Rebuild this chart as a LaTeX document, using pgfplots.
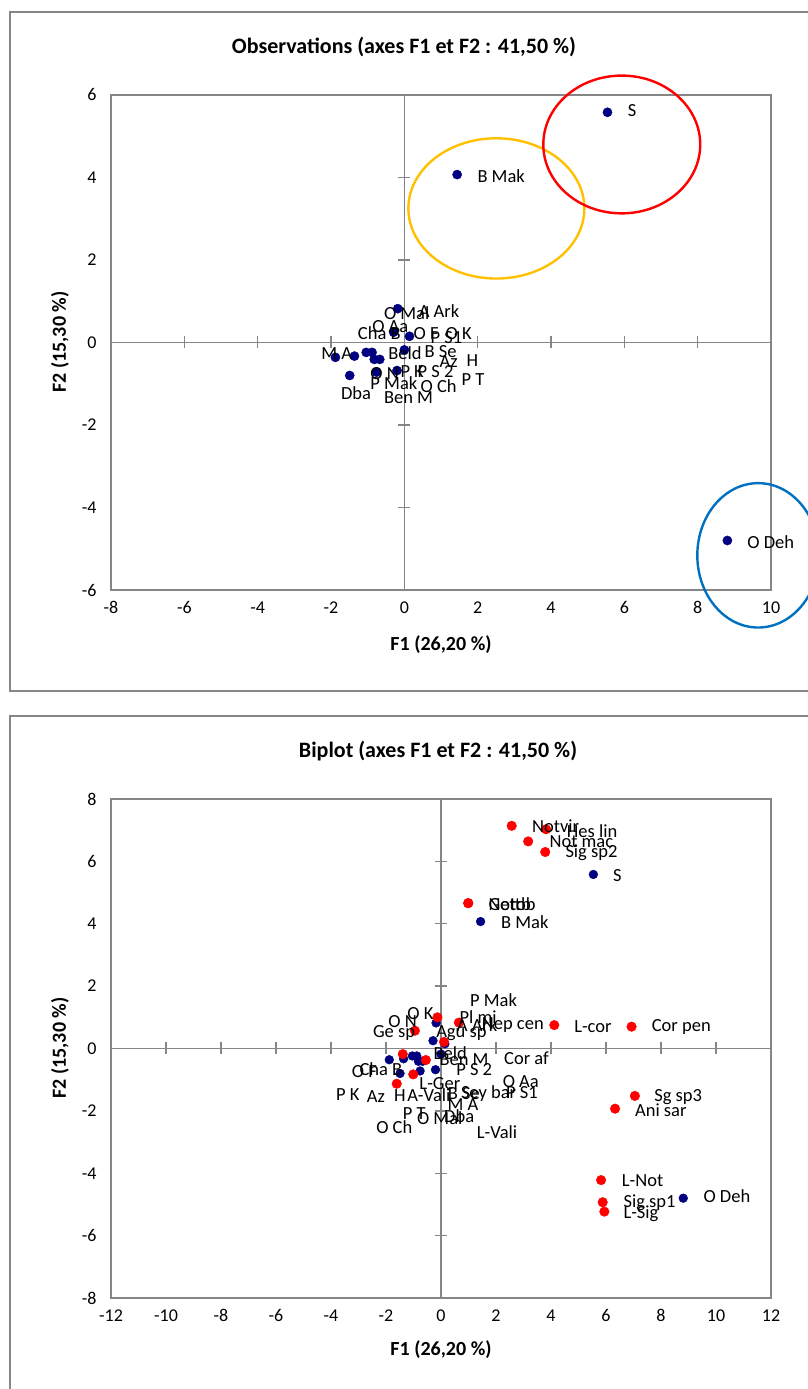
\documentclass[border=0pt]{standalone}
\usepackage{fontspec}
\setmainfont{Carlito}
\usepackage{pgfplots}
\usepackage{pgfplotstable}
\pgfplotsset{compat=1.18}
\definecolor{axgray}{HTML}{868686}
\definecolor{navy}{HTML}{000080}
\definecolor{exred}{HTML}{FF0000}
\definecolor{exorange}{HTML}{FFC000}
\definecolor{exblue}{HTML}{0070C0}

\pgfplotstableread{
x y
5.54 5.58
1.44 4.07
8.81 -4.80
-0.18 0.82
-0.29 0.25
0.14 0.15
0.00 -0.18
-1.88 -0.36
-1.36 -0.33
-1.04 -0.24
-0.88 -0.24
-0.82 -0.41
-0.67 -0.41
-1.49 -0.80
-0.76 -0.72
-0.20 -0.68
}\obsdata

\pgfplotstableread{
x y
2.57 7.14
3.82 7.03
3.17 6.64
3.79 6.30
0.99 4.66
0.99 4.66
-0.13 1.00
0.65 0.83
4.12 0.75
6.93 0.70
0.11 0.21
-0.95 0.57
-1.39 -0.18
-0.55 -0.37
-1.01 -0.83
-1.61 -1.13
7.05 -1.52
6.33 -1.93
5.82 -4.22
5.88 -4.93
5.94 -5.23
}\vardata

\pgfplotstableread[col sep=comma]{
x,y,label
-0.56,0.70,O Mal
0.39,0.76,A Ark
-0.88,0.39,O Aa
-1.27,0.22,Cha B
0.25,0.21,O F
0.71,0.11,P S1
1.12,0.21,O K
-2.27,-0.27,M A
-0.44,-0.27,Beld
0.55,-0.21,B Se
0.96,-0.47,Az
1.69,-0.45,H
-0.93,-0.76,O N
-0.11,-0.70,P K
0.36,-0.70,P S 2
1.56,-0.91,P T
-0.93,-0.99,P Mak
0.44,-1.07,O Ch
-1.73,-1.23,Dba
-0.56,-1.33,Ben M
6.09,5.62,S
1.99,4.03,B Mak
9.35,-4.83,O Deh
}\toplabels

\pgfplotstableread[col sep=comma]{
x,y,label
3.31,7.14,Notvir
4.57,6.97,Hes lin
3.94,6.62,Not mac
4.52,6.27,Sig sp2
6.25,5.56,S
1.72,4.63,Notob
1.72,4.63,Gettb
2.18,4.06,B Mak
1.05,1.56,P Mak
-1.23,1.13,O K
-1.92,0.86,O N
0.67,1.02,Pl mi
0.57,0.75,A Ark
1.48,0.75,Nep cen
4.84,0.70,L-cor
7.66,0.68,Cor pen
-2.48,0.49,Ge sp
-0.18,0.49,Agu sp
-0.28,-0.15,Beld
-0.06,-0.37,Ben M
0.55,-0.67,P S 2
2.29,-0.31,Cor af
-2.97,-0.67,Cha B
-3.25,-0.74,O F
-0.79,-1.12,L-Ger
-3.82,-1.49,P K
-2.70,-1.55,Az
-1.71,-1.52,H
-1.23,-1.49,A-Vali
0.24,-1.44,B Se
0.72,-1.43,Sey bar
2.36,-1.41,P S1
2.24,-1.06,O Aa
0.23,-1.81,M A
0.11,-2.16,Dba
-1.39,-2.10,P T
-0.88,-2.24,O Mal
-2.36,-2.51,O Ch
1.30,-2.67,L-Vali
7.75,-1.55,Sg sp3
7.05,-1.97,Ani sar
6.57,-4.24,L-Not
6.63,-4.95,Sig sp1
6.63,-5.30,L-Sig
9.54,-4.73,O Deh
}\botlabels

\pgfplotsset{
  pcabase/.style={
    scale only axis,
    axis line style={axgray, line width=1.6pt},
    major tick length=0pt,
    tick style={draw=none},
    /pgf/number format/assume math mode=true,
    tick label style={font=\fontsize{18}{20}\selectfont},
    xticklabel style={yshift=-8pt},
    yticklabel style={xshift=-11pt},
    clip=false,
  },
  lbl/.style={only marks, mark=none, nodes near coords, point meta=explicit symbolic,
    every node near coord/.append style={anchor=west, font=\fontsize{18.5}{20}\selectfont, inner sep=0pt, text=black}},
}

\begin{document}
\begin{tikzpicture}[x=1pt,y=1pt]
\useasboundingbox (0,0) rectangle (808,1389);
\clip (0,0) rectangle (808,1389);
% chart frames
\draw[axgray, line width=1.3pt] (10,1377) rectangle (815,698);
\draw[axgray, line width=1.3pt] (10,673) rectangle (815,-10);

% ---------- top chart ----------
\begin{axis}[pcabase,
  at={(111pt,799pt)}, anchor=south west,
  width=660pt, height=495pt,
  xmin=-8, xmax=10, ymin=-6, ymax=6,
  xtick={-8,-6,...,10}, ytick={-6,-4,...,6}]
  \draw[axgray, line width=1.6pt] (axis cs:0,-6) -- (axis cs:0,6);
  \draw[axgray, line width=1.6pt] (axis cs:-8,0) -- (axis cs:10,0);
  \pgfplotsinvokeforeach{-6,-4,-2,2,4,6,8}{
    \draw[axgray, line width=1.3pt] ([yshift=-6pt]axis cs:#1,0) -- ([yshift=6pt]axis cs:#1,0);}
  \pgfplotsinvokeforeach{-4,-2,2,4}{
    \draw[axgray, line width=1.3pt] ([xshift=-6pt]axis cs:0,#1) -- ([xshift=6pt]axis cs:0,#1);}
  \addplot[only marks, mark=*, mark size=4.6pt, color=navy] table[x=x, y=y] {\obsdata};
  \addplot[lbl] table[x=x, y=y, meta=label] {\toplabels};
  \draw[exorange, line width=2.4pt] (axis cs:2.51,3.25) ellipse [x radius=2.40, y radius=1.70];
  \draw[exred, line width=2.4pt] (axis cs:5.93,4.80) ellipse [x radius=2.14, y radius=1.67];
  \draw[exblue, line width=2.4pt] (axis cs:9.65,-5.16) ellipse [x radius=1.66, y radius=1.75];
\end{axis}
\node[font=\bfseries\fontsize{22}{24}\selectfont] at (404,1342) {Observations (axes F1 et F2 : 41,50 \%)};
\node[font=\bfseries\fontsize{20}{22}\selectfont] at (441,744) {F1 (26,20 \%)};
\node[font=\bfseries\fontsize{20}{22}\selectfont, rotate=90] at (60,1047) {F2 (15,30 \%)};

% ---------- bottom chart ----------
\begin{axis}[pcabase,
  at={(111pt,91pt)}, anchor=south west,
  width=660pt, height=499pt,
  xmin=-12, xmax=12, ymin=-8, ymax=8,
  xtick={-12,-10,...,12}, ytick={-8,-6,...,8}]
  \draw[axgray, line width=1.6pt] (axis cs:0,-8) -- (axis cs:0,8);
  \draw[axgray, line width=1.6pt] (axis cs:-12,0) -- (axis cs:12,0);
  \pgfplotsinvokeforeach{-10,-8,-6,-4,-2,2,4,6,8,10}{
    \draw[axgray, line width=1.3pt] ([yshift=-6pt]axis cs:#1,0) -- ([yshift=6pt]axis cs:#1,0);}
  \pgfplotsinvokeforeach{-6,-4,-2,2,4,6}{
    \draw[axgray, line width=1.3pt] ([xshift=-6pt]axis cs:0,#1) -- ([xshift=6pt]axis cs:0,#1);}
  \addplot[only marks, mark=*, mark size=4.4pt, color=navy] table[x=x, y=y] {\obsdata};
  \addplot[only marks, mark=*, mark size=4.8pt, color=exred] table[x=x, y=y] {\vardata};
  \addplot[lbl] table[x=x, y=y, meta=label] {\botlabels};
\end{axis}
\node[font=\bfseries\fontsize{22}{24}\selectfont] at (438,638) {Biplot (axes F1 et F2 : 41,50 \%)};
\node[font=\bfseries\fontsize{20}{22}\selectfont] at (441,39) {F1 (26,20 \%)};
\node[font=\bfseries\fontsize{20}{22}\selectfont, rotate=90] at (60,341) {F2 (15,30 \%)};
\end{tikzpicture}
\end{document}
